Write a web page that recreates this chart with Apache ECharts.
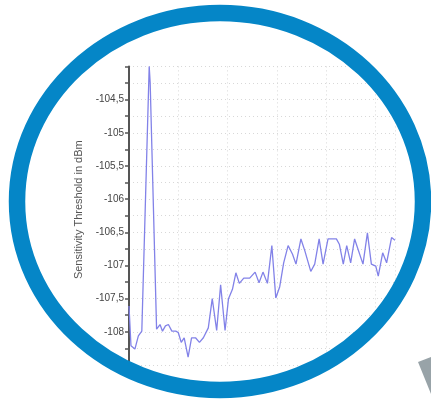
<!DOCTYPE html>
<html><head><meta charset="utf-8">
<script src="https://cdn.jsdelivr.net/npm/echarts@6/dist/echarts.min.js"></script>
<style>html,body{margin:0;padding:0;background:#fff;}#c{width:431px;height:400px;}</style>
</head><body><div id="c"></div>
<script>
const xValues = [0,0.4,1.2,1.9,2.6,4.1,4.3,5.6,6.3,6.8,7.4,8.0,8.7,9.5,10.0,10.6,11.2,12.0,12.7,13.5,14.3,15.1,16.1,16.9,17.8,18.6,19.5,20.2,21.0,21.7,22.4,23.3,24.5,25.6,26.4,27.2,28.1,29.0,29.8,30.6,31.4,32.3,33.2,33.9,34.9,35.7,36.9,37.7,38.6,39.4,40.4,42.1,42.7,43.5,44.2,45.0,45.8,47.5,48.4,49.2,50.1,50.6,51.5,52.3,53.3,54.0];
const thresholdValues = [-107.61,-108.21,-108.26,-108.06,-107.99,-104.0,-104.25,-107.96,-107.89,-107.99,-107.91,-107.89,-107.99,-107.99,-108.01,-108.16,-108.09,-108.38,-108.09,-108.09,-108.16,-108.09,-107.94,-107.50,-107.98,-107.29,-107.98,-107.50,-107.36,-107.11,-107.27,-107.19,-107.19,-107.10,-107.26,-107.10,-107.27,-106.70,-107.49,-107.32,-106.96,-106.70,-106.83,-106.98,-106.60,-106.78,-107.09,-106.98,-106.60,-106.98,-106.60,-106.60,-106.68,-106.98,-106.70,-106.96,-106.60,-106.98,-106.51,-106.98,-107.01,-107.16,-106.81,-106.96,-106.58,-106.62];
const yTickLabels = ['-108', '-107,5', '-107', '-106,5', '-106', '-105,5', '-105', '-104,5'];
const yTickValues = [-108, -107.5, -107, -106.5, -106, -105.5, -105, -104.5];
const yAxisName = 'Sensitivity Threshold in dBm';

const chart = echarts.init(document.getElementById('c'));
chart.setOption({
  backgroundColor: '#ffffff',
  animation: false,
  grid: {left: 129, right: 36, top: 66.4, bottom: 35},
  xAxis: {
    type: 'value', min: 0, max: 54, interval: 10,
    axisLine: {show: false}, axisTick: {show: false}, axisLabel: {show: false},
    splitLine: {show: true, lineStyle: {color: '#d8d8d8', type: [1, 3], width: 1}}
  },
  yAxis: {
    type: 'value', min: -108.5, max: -104, interval: 0.25,
    name: yAxisName, nameLocation: 'middle', nameGap: 31, nameRotate: 90,
    nameTextStyle: {fontFamily: 'Liberation Sans', fontSize: 11, color: '#555', padding: [0, 0, 0, 12]},
    axisLine: {show: true, lineStyle: {color: '#555', width: 2}},
    axisTick: {show: true, length: 4, lineStyle: {color: '#555', width: 1.5}},
    axisLabel: {
      fontFamily: 'Liberation Sans', fontSize: 10, color: '#444', margin: 5,
      formatter: function (v) {
        for (let i = 0; i < yTickValues.length; i++) {
          if (Math.abs(v - yTickValues[i]) < 1e-6) return yTickLabels[i];
        }
        return '';
      }
    },
    splitLine: {show: true, lineStyle: {color: '#d8d8d8', type: [1, 3], width: 1}}
  },
  series: [{
    type: 'line',
    data: xValues.map((x, i) => [x, thresholdValues[i]]),
    showSymbol: false,
    lineStyle: {color: '#8282e8', width: 1.3},
    z: 3
  }],
  graphic: [
    {type: 'ellipse', shape: {cx: 220, cy: 201.5, rx: 313, ry: 298}, style: {fill: 'none', stroke: '#ffffff', lineWidth: 204}, z: 100, silent: true},
    {type: 'ellipse', shape: {cx: 220, cy: 201.5, rx: 203, ry: 188.5}, style: {fill: 'none', stroke: '#0586c7', lineWidth: 16.5}, z: 101, silent: true},
    {type: 'polygon', shape: {points: [[418, 362], [431, 357], [431, 394]]}, style: {fill: '#98a3a8'}, z: 102, silent: true}
  ]
});
</script></body></html>
